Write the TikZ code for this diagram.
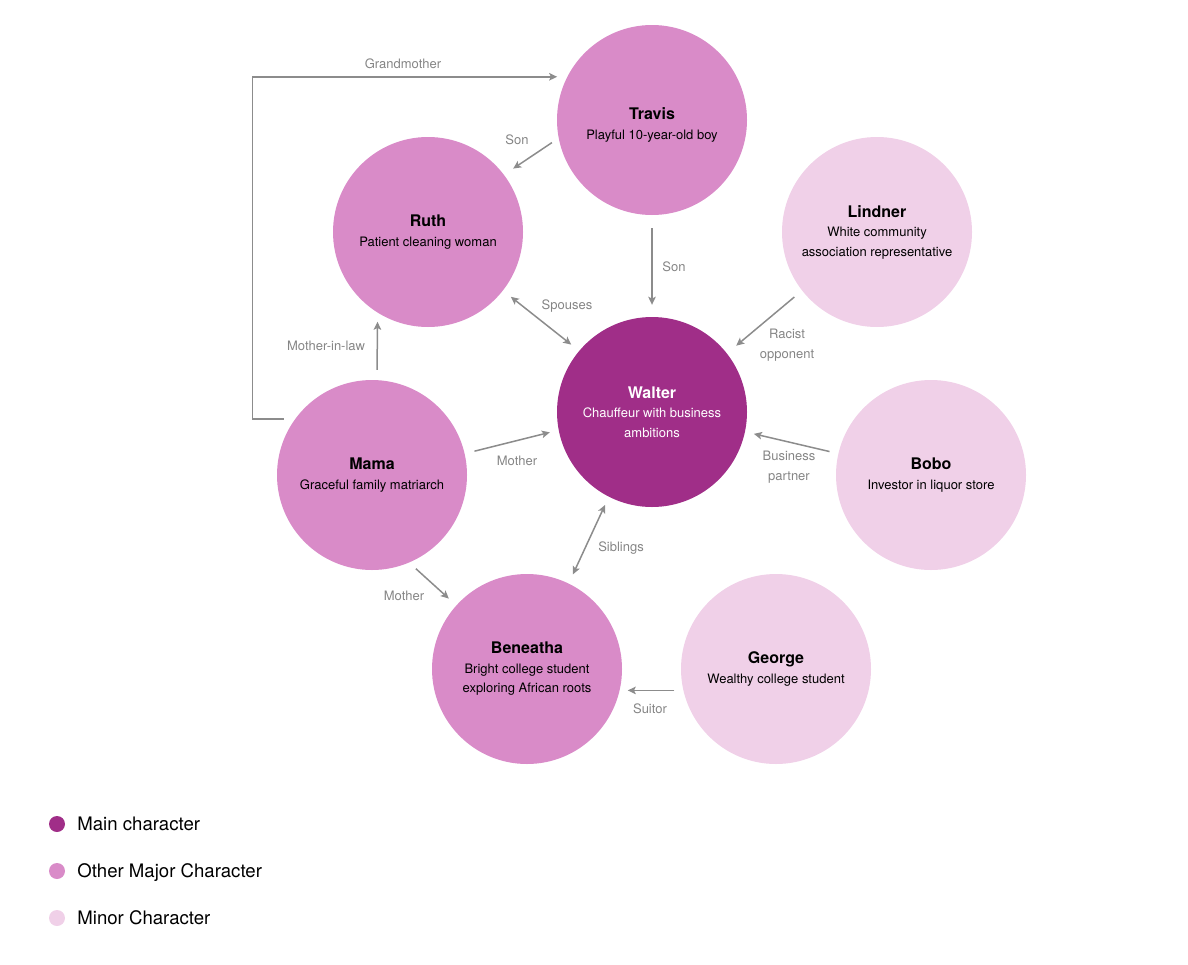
\documentclass[tikz,border=0pt]{standalone}
\usepackage{fontspec}
\setmainfont{TeX Gyre Heros}
\usetikzlibrary{arrows.meta, positioning}
\definecolor{castMain}{HTML}{A02E88}
\definecolor{castMajor}{HTML}{D98BC8}
\definecolor{castMinor}{HTML}{F0D0E8}
\definecolor{castLink}{HTML}{8C8C8C}
\definecolor{castLabel}{HTML}{858585}
\newcommand{\charname}[1]{{\fontsize{16}{19.5}\selectfont\bfseries #1}}

\begin{document}
\begin{tikzpicture}[
  x=1pt, y=-1pt,
  font=\fontsize{13}{19.5}\selectfont,
  linktip/.tip={Stealth[length=8pt, width=7.5pt, inset=1.8pt]},
  person/.style={circle, minimum size=190pt, inner sep=0pt, align=center, text=black},
  mainchar/.style={person, fill=castMain, text=white},
  majorchar/.style={person, fill=castMajor},
  minorchar/.style={person, fill=castMinor},
  rel/.style={-linktip, line width=1.5pt, draw=castLink, shorten <=10pt, shorten >=10pt},
  mutual/.style={rel, linktip-linktip},
  lbl/.style={text=castLabel, inner sep=1pt, align=center},
  dot/.style={circle, minimum size=16pt, inner sep=0pt},
  legtext/.style={font=\fontsize{18.6}{20}\selectfont, inner sep=0pt, text height=13.4pt, text depth=0pt}
]
\useasboundingbox (0,0) rectangle (1188,964);

% characters
\node[mainchar]  (walter)   at (652,412) {\charname{Walter}\\Chauffeur with business\\ambitions};
\node[majorchar] (travis)   at (652,120) {\charname{\rule{0pt}{22pt}Travis}\\Playful 10-year-old boy};
\node[majorchar] (ruth)     at (428,232) {\charname{Ruth}\\Patient cleaning woman};
\node[majorchar] (mama)     at (372,475) {\charname{Mama}\\Graceful family matriarch};
\node[majorchar] (beneatha) at (527,669) {\charname{Beneatha}\\Bright college student\\exploring African roots};
\node[minorchar] (lindner)  at (877,232) {\charname{Lindner}\\White community\\association representative};
\node[minorchar] (bobo)     at (931,475) {\charname{Bobo}\\Investor in liquor store};
\node[minorchar] (george)   at (776,669) {\charname{George}\\Wealthy college student};

% relations
\draw[rel, shorten <=11pt] (mama.144.6) -- ++(-42.5,0) |- (travis.153.8);
\draw[rel, shorten <=8pt, shorten >=11pt] (travis.191) -- (ruth.37);
\draw[rel, shorten <=13pt, shorten >=12pt] (travis.south) -- (walter.north);
\draw[mutual] (ruth.-38.4) -- (walter.140.7);
\draw[rel, shorten >=9pt] (mama.87) -- (ruth.238);
\draw[rel, shorten >=9pt] (mama.13.8) -- (walter.191.6);
\draw[rel, shorten >=12pt] (lindner.218.8) -- (walter.38.9);
\draw[rel, shorten <=9pt, shorten >=9pt] (bobo.167.2) -- (walter.-12.2);
\draw[mutual, shorten <=9pt, shorten >=10pt] (walter.243.2) -- (beneatha.64.2);
\draw[rel, shorten <=9pt] (mama.-67.9) -- (beneatha.138.9);
\draw[rel, shorten <=9pt, shorten >=8pt] (george.193.4) -- (beneatha.-13);

% relation labels
\node[lbl] (lgrand)   at (403,64)  {Grandmother};
\node[lbl] (lsonruth) at (517,140) {Son};
\node[lbl] (lsonwal)  at (674,267) {Son};
\node[lbl] (lspouse)  at (567,306) {Spouses};
\node[lbl] (linlaw)   at (326,346) {Mother-in-law};
\node[lbl] (lmomwal)  at (517,461) {Mother};
\node[lbl] (lracist)  at (787,345) {Racist\\opponent};
\node[lbl] (lpartner) at (789,467) {Business\\partner};
\node[lbl] (lsibling) at (621,548) {Siblings};
\node[lbl] (lmomben)  at (404,596) {Mother};
\node[lbl] (lsuitor)  at (650,709) {Suitor};

% legend
\node[dot, fill=castMain]  (legmain)  at (57,824) {};
\node[dot, fill=castMajor] (legmajor) at (57,871) {};
\node[dot, fill=castMinor] (legminor) at (57,918) {};
\node[legtext, right=12pt of legmain]  (legmaintext)  {Main character};
\node[legtext, right=12pt of legmajor] (legmajortext) {Other Major Character};
\node[legtext, right=12pt of legminor] (legminortext) {Minor Character};

\end{tikzpicture}
\end{document}
